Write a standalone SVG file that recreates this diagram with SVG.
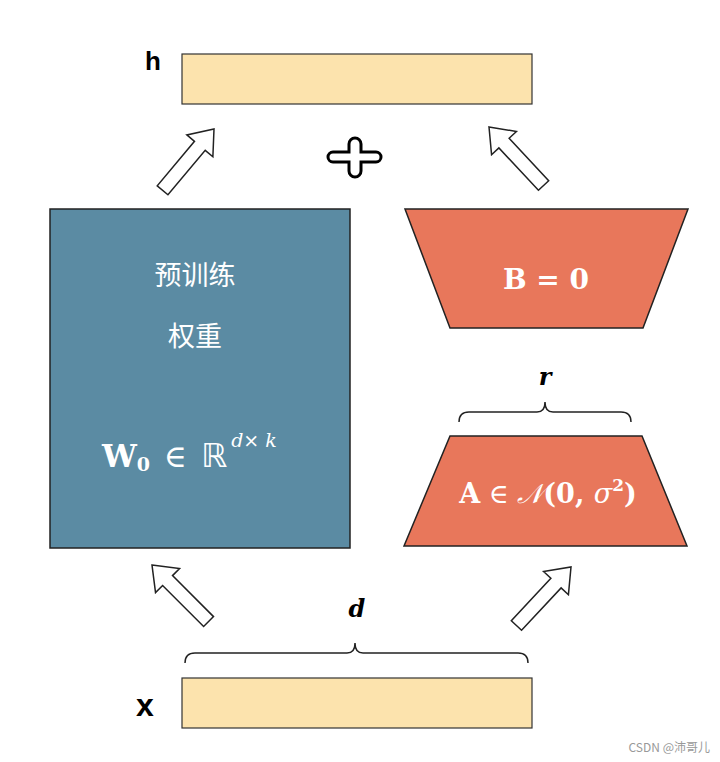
<svg xmlns="http://www.w3.org/2000/svg" width="720" height="762" viewBox="0 0 720 762">
<style>
.bar{fill:#fce3ad;stroke:#333;stroke-width:1.2}
.red{fill:#e8775b;stroke:#222;stroke-width:1.5}
.arr{fill:#fff;stroke:#222;stroke-width:1.5;stroke-linejoin:miter}
.brace{fill:none;stroke:#222;stroke-width:1.5}
.lbl{font-family:"Liberation Sans",Arial,sans-serif;fill:#000}
.m{font-family:"DejaVu Serif","Liberation Serif",serif;fill:#fff;font-weight:bold}
.cn{font-family:"Noto Sans CJK SC",sans-serif;font-size:27px;fill:#fff}
</style>
<defs>
<polygon id="ba" points="0,0 17,22 7,22 7,80 -7,80 -7,22 -17,22"/>
</defs>
<rect width="720" height="762" fill="#fff"/>
<g id="h"><rect class="bar" x="182" y="54" width="350" height="50"/><text class="lbl" x="145" y="70" font-size="26" font-weight="bold">h</text></g>
<g id="x"><rect class="bar" x="182" y="678" width="350" height="50"/><text class="lbl" x="136" y="716" font-size="32" font-weight="bold">x</text></g>
<g id="W"><rect x="50" y="209" width="300" height="339" fill="#5b8ba3" stroke="#222" stroke-width="1.5"/>
<text class="cn" x="195" y="285" text-anchor="middle">预训练</text>
<text class="cn" x="195" y="346" text-anchor="middle">权重</text>
<text class="m" x="102" y="467" font-size="31">W<tspan font-size="19" dy="4">0</tspan><tspan font-weight="normal" dx="14" dy="-4">∈</tspan><tspan font-weight="normal" dx="14" font-family="DejaVu Sans" font-size="33">ℝ</tspan><tspan font-size="19" dy="-20" font-weight="normal" font-style="italic" dx="4">d× k</tspan></text></g>
<g id="B"><polygon class="red" points="405,209 688,209 643,328 450,328"/><text class="m" x="546" y="289" font-size="28" text-anchor="middle">B = 0</text></g>
<g id="A"><polygon class="red" points="450,436 642,436 687,546 404,546"/><text class="m" x="548" y="503" font-size="27" text-anchor="middle">A<tspan font-weight="normal"> ∈ </tspan><tspan font-style="italic" font-weight="normal">𝒩</tspan>(0, <tspan font-style="italic" font-weight="normal">σ</tspan><tspan font-size="17" dy="-12">2</tspan><tspan dy="12">)</tspan></text></g>
<g id="plus"><path d="M349,144 a6,6 0 0 1 12,0 v8 h15 a5,5 0 0 1 0,10 h-15 v9 a6,6 0 0 1 -12,0 v-9 h-16 a5,5 0 0 1 0,-10 h16 z" fill="#fff" stroke="#000" stroke-width="3"/></g>
<g id="connectors">
<use href="#ba" class="arr" transform="translate(214,129) rotate(40)"/>
<use href="#ba" class="arr" transform="translate(489,127) rotate(-43)"/>
<use href="#ba" class="arr" transform="translate(152,565) rotate(-45)"/>
<use href="#ba" class="arr" transform="translate(571,567) rotate(43)"/>
<path class="brace" d="M459,422 q0,-10 10,-10 h68 q8,0 8,-10 q0,10 8,10 h68 q10,0 10,10"/>
<path class="brace" d="M185,663 q0,-10 10,-10 h152 q8,0 8,-10 q0,10 8,10 h155 q10,0 10,10"/>
</g>
<text x="545" y="385" font-family="DejaVu Serif,serif" font-style="italic" font-weight="bold" font-size="24" text-anchor="middle">r</text>
<text x="357" y="617" font-family="DejaVu Serif,serif" font-style="italic" font-weight="bold" font-size="24" text-anchor="middle">d</text>
<text x="710" y="752" font-family="Noto Sans CJK SC,sans-serif" font-size="12" fill="#999" text-anchor="end">CSDN @沛哥儿</text>
</svg>
